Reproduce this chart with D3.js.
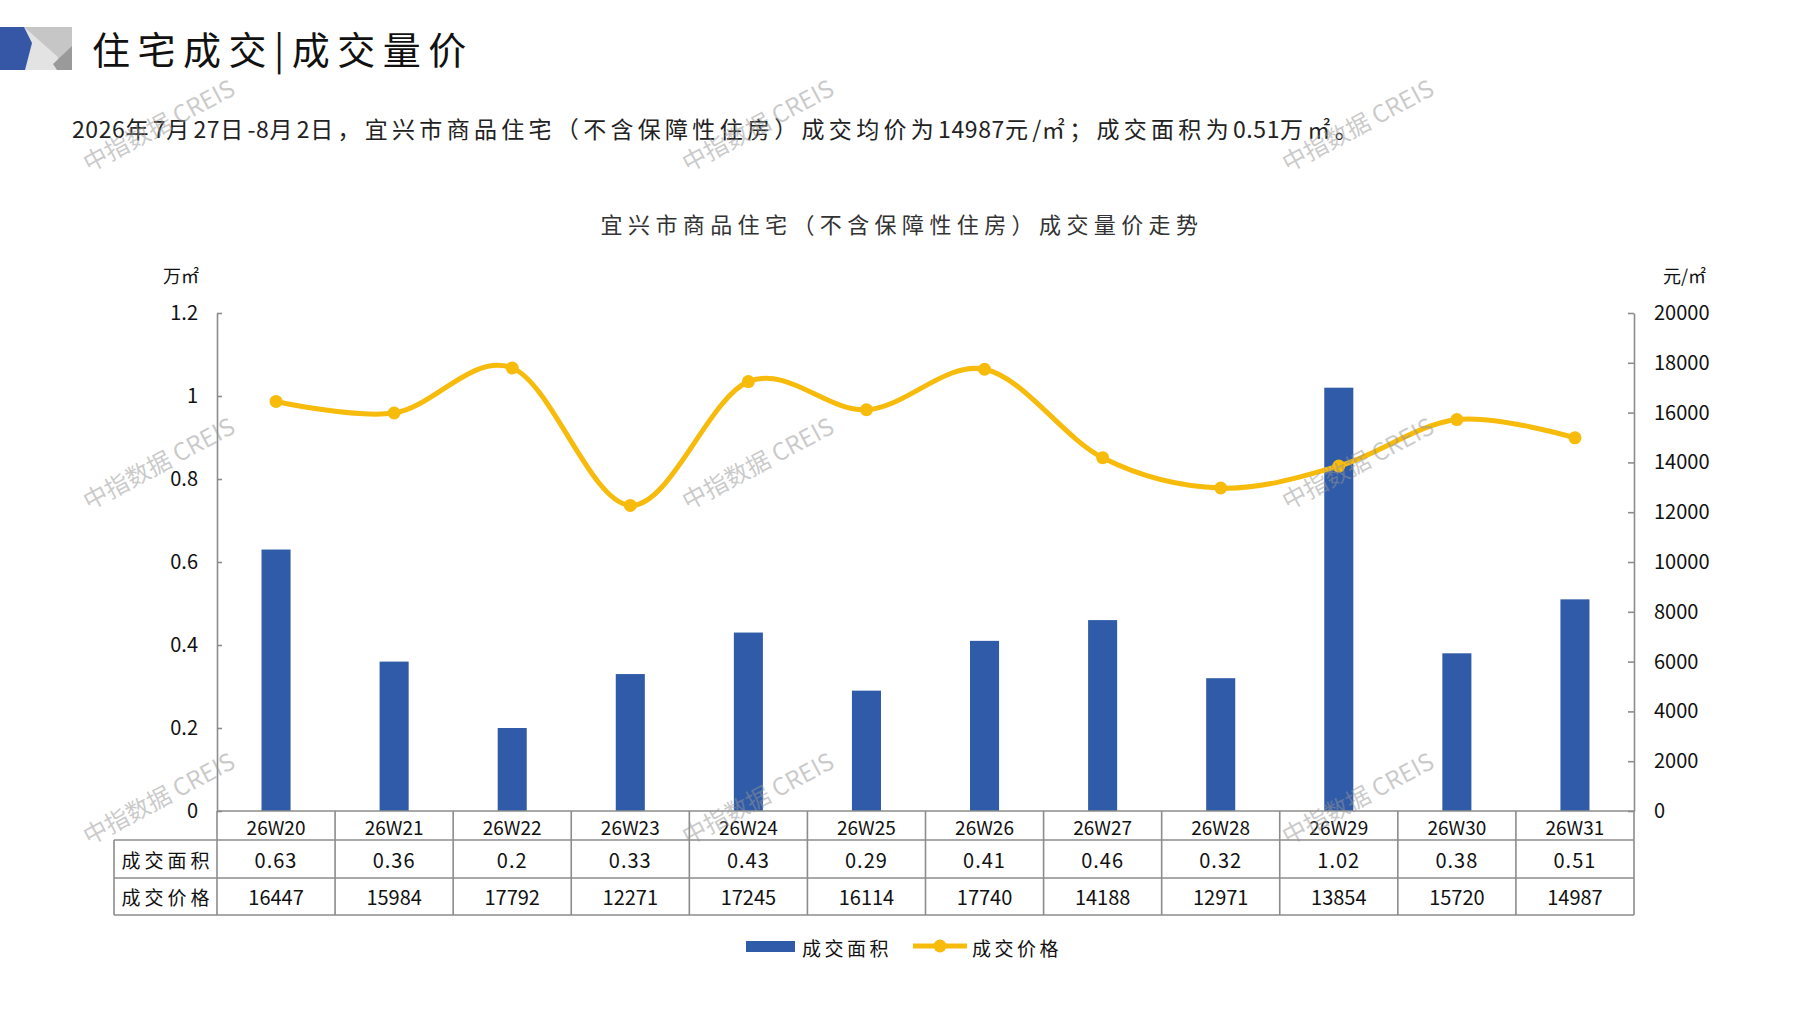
<!DOCTYPE html>
<html><head><meta charset="utf-8">
<script src="https://cdn.jsdelivr.net/npm/d3@7/dist/d3.min.js"></script>
<style>
html,body{margin:0;padding:0;background:#fff;}
svg{display:block;font-family:"Noto Sans CJK SC","Noto Sans",sans-serif;}
</style></head>
<body>
<svg id="chart" width="1797" height="1010"></svg>
<script>
// ---- data ----
const categories = ['26W20','26W21','26W22','26W23','26W24','26W25','26W26','26W27','26W28','26W29','26W30','26W31'];
const areaValues = [0.63,0.36,0.2,0.33,0.43,0.29,0.41,0.46,0.32,1.02,0.38,0.51];
const priceValues = [16447,15984,17792,12271,17245,16114,17740,14188,12971,13854,15720,14987];
const leftTicks = [0,0.2,0.4,0.6,0.8,1,1.2];
const rightTicks = [0,2000,4000,6000,8000,10000,12000,14000,16000,18000,20000];
const seriesNames = ['成交面积','成交价格'];
const pageTitle = '住宅成交|成交量价';
const subTitle = '2026年7月27日-8月2日，宜兴市商品住宅（不含保障性住房）成交均价为14987元/㎡；成交面积为0.51万㎡。';
const chartTitle = '宜兴市商品住宅（不含保障性住房）成交量价走势';
const leftUnit = '万㎡';
const rightUnit = '元/㎡';
const watermarkText = '中指数据 CREIS';

const BLUE = '#2f5ba8', YELLOW = '#f7bb0c', GRID = '#8c8c8c';
const svg = d3.select('#chart');

// ---- header logo ----
const logo = svg.append('g');
logo.append('rect').attr('x',24).attr('y',27).attr('width',48).attr('height',43).attr('fill','#c6c6c6');
logo.append('polygon').attr('points','24,27 58,57 57,70 25,70').attr('fill','#e3e3e3');
logo.append('polygon').attr('points','53,64 72,46 72,70 57,70').attr('fill','#9a9a9a');
logo.append('polygon').attr('points','0,27 24,27 32,43 25,70 0,70').attr('fill','#3557a5');

svg.append('text').attr('x',92).attr('y',47).attr('dominant-baseline','central')
  .attr('font-size',38).attr('letter-spacing',7.5).attr('fill','#111').text(pageTitle);

const sub = svg.append('text').attr('x',72).attr('y',128).attr('dominant-baseline','central')
  .attr('font-size',23).attr('fill','#222');
subTitle.match(/[\x00-\x7F]+|[^\x00-\x7F]+/g).forEach(run=>{
  const ascii = /^[\x00-\x7F]+$/.test(run);
  sub.append('tspan').attr('letter-spacing', ascii ? 0.6 : 4.3).text(run);
});

svg.append('text').attr('x',902).attr('y',223).attr('text-anchor','middle').attr('dominant-baseline','central')
  .attr('font-size',22).attr('letter-spacing',5.4).attr('fill','#333').text(chartTitle);

// ---- scales ----
const x = d3.scaleBand().domain(categories).range([217,1634]);
const yL = d3.scaleLinear().domain([0,1.2]).range([811,313]);
const yR = d3.scaleLinear().domain([0,20000]).range([811,313]);
const bw = x.bandwidth()*0.246;

// ---- bars ----
svg.append('g').selectAll('rect').data(areaValues).join('rect')
  .attr('x',(d,i)=>x(categories[i])+x.bandwidth()/2-bw/2)
  .attr('y',d=>yL(d)).attr('width',bw).attr('height',d=>yL(0)-yL(d)).attr('fill',BLUE);

// ---- axes ----
const axL = svg.append('g').attr('transform','translate(217,0)')
  .call(d3.axisLeft(yL).tickValues(leftTicks).tickSize(-5).tickSizeOuter(0).tickPadding(19).tickFormat(d3.format('~g')));
const axR = svg.append('g').attr('transform','translate(1634,0)')
  .call(d3.axisRight(yR).tickValues(rightTicks).tickSize(-6).tickSizeOuter(0).tickPadding(20).tickFormat(d3.format('d')));
[axL,axR].forEach(a=>{
  a.selectAll('path,line').attr('stroke',GRID).attr('stroke-width',1.6);
  a.selectAll('text').attr('font-size',20).attr('fill','#111').attr('font-family','"Noto Sans CJK SC",sans-serif');
});

svg.append('text').attr('x',163).attr('y',275).attr('dominant-baseline','central').attr('font-size',18).attr('fill','#111').text(leftUnit);
svg.append('text').attr('x',1663).attr('y',275).attr('dominant-baseline','central').attr('font-size',18).attr('fill','#111').text(rightUnit);

// ---- line ----
const pts = priceValues.map((d,i)=>[x(categories[i])+x.bandwidth()/2, yR(d)]);
svg.append('path').attr('d',d3.line().curve(d3.curveCardinal.tension(0))(pts))
  .attr('fill','none').attr('stroke',YELLOW).attr('stroke-width',5).attr('stroke-linecap','round');
svg.append('g').selectAll('circle').data(pts).join('circle')
  .attr('cx',d=>d[0]).attr('cy',d=>d[1]).attr('r',6.5).attr('fill',YELLOW);

// ---- data table ----
const tbl = svg.append('g');
const rowY = [811,840,878,915];
const tL = 114, tR = 1634;
const lineAttr = s=>s.attr('stroke',GRID).attr('stroke-width',1.6);
tbl.append('line').attr('x1',217).attr('x2',tR).attr('y1',rowY[0]).attr('y2',rowY[0]).call(lineAttr);
[1,2,3].forEach(r=>tbl.append('line').attr('x1',tL).attr('x2',tR).attr('y1',rowY[r]).attr('y2',rowY[r]).call(lineAttr));
tbl.append('line').attr('x1',tL).attr('x2',tL).attr('y1',rowY[1]).attr('y2',rowY[3]).call(lineAttr);
categories.forEach((c,i)=>{
  tbl.append('line').attr('x1',x(c)).attr('x2',x(c)).attr('y1',rowY[0]).attr('y2',rowY[3]).call(lineAttr);
});
tbl.append('line').attr('x1',tR).attr('x2',tR).attr('y1',rowY[0]).attr('y2',rowY[3]).call(lineAttr);
const cx = c=>x(c)+x.bandwidth()/2;
tbl.selectAll('text.cat').data(categories).join('text').attr('class','cat')
  .attr('x',d=>cx(d)).attr('y',(rowY[0]+rowY[1])/2+1).attr('text-anchor','middle').attr('dominant-baseline','central')
  .attr('font-size',19).attr('fill','#111').text(d=>d);
tbl.selectAll('text.area').data(areaValues).join('text').attr('class','area')
  .attr('x',(d,i)=>cx(categories[i])).attr('y',(rowY[1]+rowY[2])/2).attr('text-anchor','middle').attr('dominant-baseline','central')
  .attr('font-size',20).attr('letter-spacing',1).attr('fill','#111').text(d=>d);
tbl.selectAll('text.price').data(priceValues).join('text').attr('class','price')
  .attr('x',(d,i)=>cx(categories[i])).attr('y',(rowY[2]+rowY[3])/2).attr('text-anchor','middle').attr('dominant-baseline','central')
  .attr('font-size',20).attr('fill','#111').text(d=>d);
seriesNames.forEach((n,k)=>{
  tbl.append('text').attr('x',(tL+217)/2+2).attr('y',(rowY[k+1]+rowY[k+2])/2).attr('text-anchor','middle').attr('dominant-baseline','central')
    .attr('font-size',19).attr('letter-spacing',4).attr('fill','#111').text(n);
});

// ---- legend ----
const lg = svg.append('g');
lg.append('rect').attr('x',746).attr('y',941).attr('width',49).attr('height',11).attr('fill',BLUE);
lg.append('text').attr('x',802).attr('y',947).attr('dominant-baseline','central').attr('font-size',19).attr('letter-spacing',3.5).attr('fill','#111').text(seriesNames[0]);
lg.append('line').attr('x1',913).attr('x2',967).attr('y1',946).attr('y2',946).attr('stroke',YELLOW).attr('stroke-width',5);
lg.append('circle').attr('cx',940).attr('cy',946).attr('r',6.5).attr('fill',YELLOW);
lg.append('text').attr('x',972).attr('y',947).attr('dominant-baseline','central').attr('font-size',19).attr('letter-spacing',3.5).attr('fill','#111').text(seriesNames[1]);

// ---- watermarks ----
const wmX = [158,757,1357], wmY = [124,462,797];
const wm = svg.append('g').attr('pointer-events','none');
wmY.forEach(yy=>wmX.forEach(xx=>{
  wm.append('text').attr('transform',`translate(${xx},${yy}) rotate(-28)`).attr('text-anchor','middle').attr('dominant-baseline','central')
    .attr('font-size',24).attr('fill','rgba(150,150,150,0.5)').text(watermarkText);
}));
</script>
</body></html>
